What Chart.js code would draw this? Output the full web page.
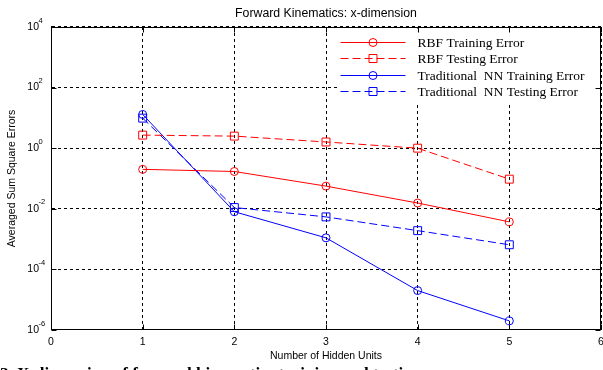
<!DOCTYPE html>
<html>
<head>
<meta charset="utf-8">
<script src="https://cdn.jsdelivr.net/npm/chart.js@4.4.1/dist/chart.umd.min.js"></script>
<style>
  html, body { margin: 0; padding: 0; background: #fff; overflow: hidden; }
  #wrap { position: relative; width: 603px; height: 370px; overflow: hidden; }
  #caption {
    position: absolute; left: 0; top: 365px;
    font: bold 17px "Liberation Serif", "Times New Roman", serif;
    line-height: 17px; white-space: nowrap; color: #000;
  }
</style>
</head>
<body>
<div id="wrap">
  <canvas id="c" width="603" height="370"></canvas>
  <div id="caption">3. X-dimension of forward kinematics training and testing errors</div>
</div>
<script>
// Number of hidden units on the x axis
const hiddenUnits = [1, 2, 3, 4, 5];

// Averaged sum square errors per network size
const rbfTraining = [0.2, 0.17, 0.056, 0.0155, 0.0037];
const rbfTesting  = [2.7, 2.5, 1.6, 1.0, 0.095];
const nnTraining  = [13, 0.008, 0.0011, 2e-5, 2e-6];
const nnTesting   = [9.8, 0.011, 0.0054, 0.0019, 0.00065];

// Axis ticks
const xTickValues = [0, 1, 2, 3, 4, 5, 6];
const yTickExponents = [-6, -4, -2, 0, 2, 4];

const seriesLabels = [
  'RBF Training Error',
  'RBF Testing Error',
  'Traditional  NN Training Error',
  'Traditional  NN Testing Error'
];

const RED = '#ff0000';
const BLUE = '#0000ff';
const DASH = [8, 4];
const SANS = '"Liberation Sans", Arial, Helvetica, sans-serif';
const SERIF = '"Liberation Serif", "Times New Roman", serif';

const toPoints = (vals) => vals.map((v, i) => ({ x: hiddenUnits[i], y: v }));

function series(label, vals, color, dashed, marker) {
  return {
    label,
    data: toPoints(vals),
    borderColor: color,
    backgroundColor: 'rgba(0,0,0,0)',
    borderWidth: 1,
    borderDash: dashed ? DASH : [],
    pointStyle: marker,
    pointRadius: marker === 'rect' ? 5.6 : 4,
    pointHoverRadius: marker === 'rect' ? 5.6 : 4,
    pointBorderColor: color,
    pointBackgroundColor: 'rgba(0,0,0,0)',
    pointBorderWidth: 1,
    tension: 0,
    fill: false
  };
}

// Box frame, inward tick marks, superscript exponents and the key
const axesDecor = {
  id: 'axesDecor',
  afterDraw(chart) {
    const { ctx, chartArea: a, scales } = chart;
    const L = Math.round(a.left) + 0.5, R = Math.round(a.right) - 0.5;
    const T = Math.round(a.top) + 0.5, B = Math.round(a.bottom) - 0.5;
    ctx.save();

    // key
    const kx = L + 286, ky = T + 1;
    ctx.fillStyle = '#fff';
    ctx.fillRect(kx, ky, R - kx, 75);
    chart.data.datasets.forEach((ds, i) => {
      const y = Math.round(a.top + 15 + i * 16.4) + 0.5;
      ctx.strokeStyle = ds.borderColor;
      ctx.lineWidth = 1;
      ctx.setLineDash(ds.borderDash);
      ctx.beginPath();
      ctx.moveTo(kx + 3, y);
      ctx.lineTo(kx + 68, y);
      ctx.stroke();
      ctx.setLineDash([]);
      const mx = kx + 35.5;
      ctx.beginPath();
      if (ds.pointStyle === 'rect') {
        ctx.rect(mx - 4, y - 4, 8, 8);
      } else {
        ctx.arc(mx, y, 4, 0, Math.PI * 2);
      }
      ctx.stroke();
      ctx.fillStyle = '#000';
      ctx.font = '13.5px ' + SERIF;
      ctx.textAlign = 'left';
      ctx.textBaseline = 'middle';
      ctx.fillText(ds.label, kx + 80, y + 1);
    });

    // frame
    ctx.strokeStyle = '#000';
    ctx.lineWidth = 1;
    ctx.setLineDash([]);
    ctx.strokeRect(L, T, R - L, B - T);

    // inward ticks
    ctx.beginPath();
    scales.x.ticks.forEach(t => {
      const px = Math.round(scales.x.getPixelForValue(t.value)) + 0.5;
      ctx.moveTo(px, B); ctx.lineTo(px, B - 5);
      ctx.moveTo(px, T); ctx.lineTo(px, T + 5);
    });
    scales.y.ticks.forEach(t => {
      const py = Math.round(scales.y.getPixelForValue(t.value)) + 0.5;
      ctx.moveTo(L, py); ctx.lineTo(L + 5, py);
      ctx.moveTo(R, py); ctx.lineTo(R - 5, py);
    });
    ctx.stroke();

    // exponents of the y tick labels
    ctx.fillStyle = '#000';
    ctx.font = '7.5px ' + SANS;
    ctx.textAlign = 'left';
    ctx.textBaseline = 'middle';
    scales.y.ticks.forEach(t => {
      const py = scales.y.getPixelForValue(t.value);
      const e = Math.round(Math.log10(t.value));
      ctx.fillText(String(e), a.left - 12.5, py - 6.5);
    });
    ctx.restore();
  }
};

new Chart(document.getElementById('c'), {
  type: 'line',
  data: {
    datasets: [
      series(seriesLabels[0], rbfTraining, RED, false, 'circle'),
      series(seriesLabels[1], rbfTesting, RED, true, 'rect'),
      series(seriesLabels[2], nnTraining, BLUE, false, 'circle'),
      series(seriesLabels[3], nnTesting, BLUE, true, 'rect')
    ]
  },
  options: {
    responsive: false,
    devicePixelRatio: 1,
    animation: false,
    events: [],
    layout: { autoPadding: false, padding: { top: 0, left: 0, right: 2, bottom: 8 } },
    plugins: {
      legend: { display: false },
      tooltip: { enabled: false },
      title: {
        display: true,
        fullSize: false,
        text: 'Forward Kinematics: x-dimension',
        color: '#000',
        font: { family: SANS, size: 12.3, weight: 'normal' },
        padding: { top: 6, bottom: 6.2 }
      }
    },
    scales: {
      x: {
        type: 'linear',
        min: 0,
        max: 6,
        afterBuildTicks: s => { s.ticks = xTickValues.map(v => ({ value: v })); },
        afterFit: s => { s.height = 32; s.paddingLeft = 0; s.paddingRight = 0; },
        ticks: {
          color: '#000',
          font: { family: SANS, size: 10.5 },
          padding: 6,
          maxRotation: 0,
          autoSkip: false
        },
        grid: { color: '#000', lineWidth: 1, drawTicks: false },
        border: { display: true, color: '#000', width: 1, dash: [3, 3] },
        title: {
          display: true,
          text: 'Number of Hidden Units',
          color: '#000',
          font: { family: SANS, size: 10.5 },
          padding: { top: 0, bottom: 0 }
        }
      },
      y: {
        type: 'logarithmic',
        min: 1e-6,
        max: 1e4,
        afterBuildTicks: s => { s.ticks = yTickExponents.map(e => ({ value: Math.pow(10, e) })); },
        afterFit: s => { s.width = 51; s.paddingTop = 0; s.paddingBottom = 0; },
        ticks: {
          color: '#000',
          font: { family: SANS, size: 10.5 },
          padding: 12,
          autoSkip: false,
          callback: () => '10'
        },
        grid: { color: '#000', lineWidth: 1, drawTicks: false },
        border: { display: true, color: '#000', width: 1, dash: [3, 3] },
        title: {
          display: true,
          text: 'Averaged Sum Square Errors',
          color: '#000',
          font: { family: SANS, size: 10.5 },
          padding: { top: 6.2, bottom: 0 }
        }
      }
    }
  },
  plugins: [axesDecor]
});
</script>
</body>
</html>
